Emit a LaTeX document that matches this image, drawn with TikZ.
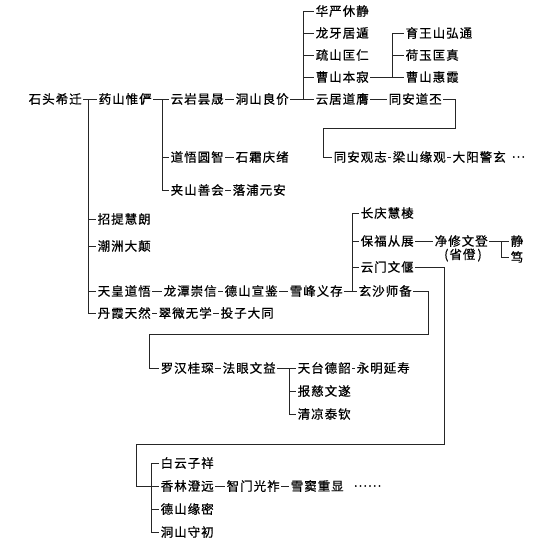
\documentclass[tikz,border=0pt]{standalone}
\usepackage{fontspec}
\newfontfamily\cjk{Noto Sans CJK SC}[LetterSpace=8, FakeBold=0.6]
\usetikzlibrary{calc}
\tikzset{
  nm/.style={anchor=west, inner sep=1.5pt, font=\cjk\fontsize{12.5}{14}\selectfont},
  ln/.style={line width=0.6pt, draw=black!85}
}
\begin{document}
\begin{tikzpicture}[x=1pt,y=-1pt]
\fill[white] (0,0) rectangle (546,547);
\useasboundingbox (0,0) rectangle (546,547);
% main row
\node[nm] (shitou) at (27,99) {石头希迁};
\node[nm] (yaoshan) at (97,99) {药山惟俨};
\node[nm] (yunyan) at (169,99) {云岩昙晟};
\node[nm] (dongshan) at (234,99) {洞山良价};
\node[nm] (yunju) at (314,99) {云居道膺};
\node[nm] (tongan) at (387,99) {同安道丕};
% dongshan children
\node[nm] (huayan) at (314,11) {华严休静};
\node[nm] (longya) at (314,33) {龙牙居遁};
\node[nm] (shushan) at (314,55) {疏山匡仁};
\node[nm] (caoshan) at (314,77) {曹山本寂};
\node[nm] (yuwang) at (404,33) {育王山弘通};
\node[nm] (heyu) at (404,55) {荷玉匡真};
\node[nm] (caoshanhx) at (404,77) {曹山惠霞};
% tongan line
\node[nm] (guanzhi) at (332,157) {同安观志};
\node[nm] (liangshan) at (391,157) {梁山缘观};
\node[nm] (dayang) at (451,157) {大阳警玄};
\node[nm] (dots1) at (510,157) {…};
% yaoshan children
\node[nm] (daowu) at (169,157) {道悟圆智};
\node[nm] (shishuang) at (234,157) {石霜庆绪};
\node[nm] (jiashan) at (169,190) {夹山善会};
\node[nm] (luopu) at (231,190) {落浦元安};
% shitou children
\node[nm] (zhaoti) at (96,219) {招提慧朗};
\node[nm] (chaozhou) at (96,246) {潮洲大颠};
\node[nm] (tianhuang) at (96,291) {天皇道悟};
\node[nm] (danxia) at (96,313) {丹霞天然};
\node[nm] (longtan) at (162,291) {龙潭崇信};
\node[nm] (deshan) at (223,291) {德山宣鉴};
\node[nm] (xuefeng) at (288,291) {雪峰义存};
\node[nm] (xuansha) at (357,291) {玄沙师备};
\node[nm] (changqing) at (359,213) {长庆慧棱};
\node[nm] (baofu) at (359,241) {保福从展};
\node[nm] (yunmen) at (359,267) {云门文偃};
\node[nm] (jingxiu) at (433,241) {净修文登};
\node[nm, anchor=center] (shengdeng) at (463,255) {(省僜\,)};
\node[nm] (jing) at (509,241) {静};
\node[nm] (du) at (509,257) {笃};
\node[nm] (cuiwei) at (157,313) {翠微无学};
\node[nm] (touzi) at (219,313) {投子大同};
% xuansha line
\node[nm] (luohan) at (159,368) {罗汉桂琛};
\node[nm] (fayan) at (221,368) {法眼文益};
\node[nm] (tiantai) at (296,368) {天台德韶};
\node[nm] (yongming) at (355,368) {永明延寿};
\node[nm] (baoci) at (296,391) {报慈文遂};
\node[nm] (qingliang) at (296,414) {清凉泰钦};
% yunmen line
\node[nm] (baiyun) at (159,463) {白云子祥};
\node[nm] (xianglin) at (159,486) {香林澄远};
\node[nm] (zhimen) at (225,486) {智门光祚};
\node[nm] (xuedou) at (289,486) {雪窦重显};
\node[nm] (dots2) at (352,486) {……};
\node[nm] (deshan2) at (159,509) {德山缘密};
\node[nm] (dongshan2) at (159,532) {洞山守初};

% connectors
\coordinate (j1) at (88,99);
\coordinate (j2) at (162,99);
\coordinate (j3) at (303,99);
\coordinate (j4) at (392,77);
\coordinate (c1) at (455,128);
\coordinate (c2) at (323,128);
\coordinate (j5) at (352,291);
\coordinate (j6) at (501,241);
\coordinate (c3) at (428,334);
\coordinate (c4) at (149,334);
\coordinate (j7) at (289,368);
\coordinate (c5) at (444,444);
\coordinate (c6) at (136,444);
\coordinate (j8) at (151,486);

\draw[ln] (shitou.east) -- (yaoshan.west);
\draw[ln] (j1) |- (danxia.west);
\draw[ln] (j1 |- zhaoti.west) -- (zhaoti.west);
\draw[ln] (j1 |- chaozhou.west) -- (chaozhou.west);
\draw[ln] (j1 |- tianhuang.west) -- (tianhuang.west);

\draw[ln] (yaoshan.east) -- (yunyan.west);
\draw[ln] (j2) |- (jiashan.west);
\draw[ln] (j2 |- daowu.west) -- (daowu.west);
\draw[ln] (daowu.east) -- (shishuang.west);
\draw[ln] (jiashan.east) -- (luopu.west);

\draw[ln] (yunyan.east) -- (dongshan.west);
\draw[ln] (dongshan.east) -- (yunju.west);
\draw[ln] (j3) |- (huayan.west);
\draw[ln] (j3 |- longya.west) -- (longya.west);
\draw[ln] (j3 |- shushan.west) -- (shushan.west);
\draw[ln] (j3 |- caoshan.west) -- (caoshan.west);

\draw[ln] (caoshan.east) -- (caoshanhx.west);
\draw[ln] (j4) |- (yuwang.west);
\draw[ln] (j4 |- heyu.west) -- (heyu.west);

\draw[ln] (yunju.east) -- (tongan.west);
\draw[ln] (tongan.east) -| (c1) -- (c2) |- (guanzhi.west);
\draw[ln] (guanzhi.east) -- (liangshan.west);
\draw[ln] (liangshan.east) -- (dayang.west);

\draw[ln] (tianhuang.east) -- (longtan.west);
\draw[ln] (longtan.east) -- (deshan.west);
\draw[ln] (deshan.east) -- (xuefeng.west);
\draw[ln] (xuefeng.east) -- (xuansha.west);
\draw[ln] (j5) |- (changqing.west);
\draw[ln] (j5 |- baofu.west) -- (baofu.west);
\draw[ln] (j5 |- yunmen.west) -- (yunmen.west);

\draw[ln] (baofu.east) -- (jingxiu.west);
\draw[ln] (jingxiu.east) -- (jing.west);
\draw[ln] (j6) |- (du.west);

\draw[ln] (danxia.east) -- (cuiwei.west);
\draw[ln] (cuiwei.east) -- (touzi.west);

\draw[ln] (xuansha.east) -| (c3) -- (c4) |- (luohan.west);
\draw[ln] (luohan.east) -- (fayan.west);
\draw[ln] (fayan.east) -- (tiantai.west);
\draw[ln] (tiantai.east) -- (yongming.west);
\draw[ln] (j7) |- (qingliang.west);
\draw[ln] (j7 |- baoci.west) -- (baoci.west);

\draw[ln] (yunmen.east) -| (c5) -- (c6) |- (j8);
\draw[ln] (baiyun.west) -- (j8 |- baiyun.west) -- (j8 |- dongshan2.west) -- (dongshan2.west);
\draw[ln] (j8) -- (xianglin.west);
\draw[ln] (j8 |- deshan2.west) -- (deshan2.west);
\draw[ln] (xianglin.east) -- (zhimen.west);
\draw[ln] (zhimen.east) -- (xuedou.west);
\end{tikzpicture}
\end{document}
